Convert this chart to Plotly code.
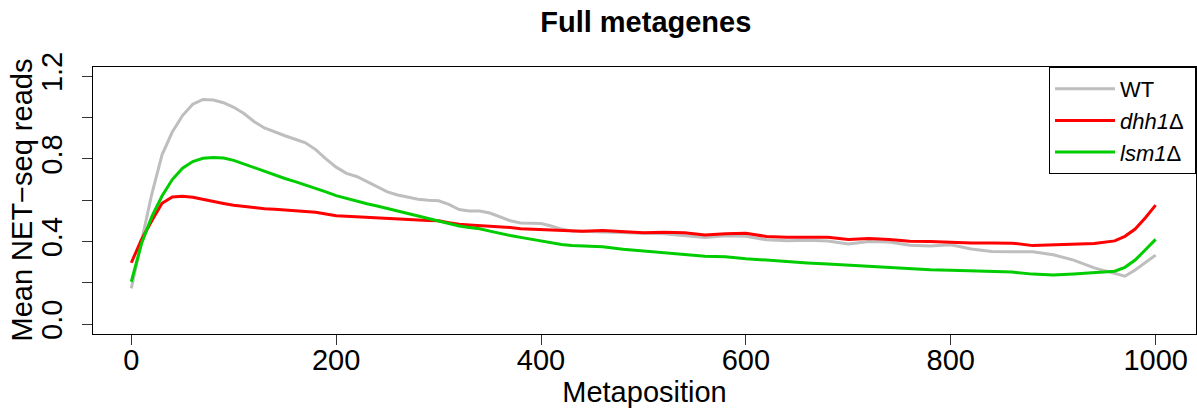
import plotly.graph_objects as go

# Metagene profiles (mean NET-seq reads along scaled gene body)
positions = [0, 10, 20, 30, 40, 50, 60, 70, 80, 90, 100, 110, 120, 130, 140, 150, 160, 170, 180, 190,
             200, 210, 220, 230, 240, 250, 260, 270, 280, 290, 300, 310, 320, 330, 340, 350, 360, 370,
             380, 390, 400, 410, 420, 430, 440, 460, 480, 500, 520, 540, 560, 580, 600, 620, 640, 660,
             680, 700, 720, 740, 760, 780, 800, 820, 840, 860, 880, 900, 920, 940, 960, 970, 980, 990, 1000]

wt = [0.173, 0.40, 0.63, 0.82, 0.93, 1.01, 1.065, 1.088, 1.085, 1.072, 1.05, 1.02, 0.98, 0.95, 0.93,
      0.912, 0.895, 0.878, 0.845, 0.80, 0.76, 0.73, 0.715, 0.69, 0.665, 0.64, 0.625, 0.614, 0.605,
      0.600, 0.597, 0.58, 0.555, 0.548, 0.548, 0.538, 0.52, 0.50, 0.49, 0.488, 0.487, 0.475, 0.46,
      0.451, 0.449, 0.447, 0.443, 0.44, 0.438, 0.43, 0.419, 0.428, 0.425, 0.408, 0.404, 0.406, 0.402,
      0.388, 0.40, 0.398, 0.382, 0.378, 0.384, 0.364, 0.352, 0.350, 0.35, 0.336, 0.31, 0.272, 0.243,
      0.232, 0.262, 0.298, 0.334]

dhh1 = [0.297, 0.41, 0.50, 0.585, 0.615, 0.619, 0.614, 0.603, 0.594, 0.584, 0.575, 0.569, 0.563,
        0.559, 0.556, 0.553, 0.55, 0.546, 0.542, 0.533, 0.525, 0.522, 0.519, 0.517, 0.515, 0.511,
        0.508, 0.506, 0.504, 0.502, 0.50, 0.491, 0.483, 0.480, 0.477, 0.475, 0.474, 0.468, 0.462,
        0.460, 0.458, 0.455, 0.452, 0.451, 0.45, 0.453, 0.446, 0.442, 0.445, 0.442, 0.431, 0.438,
        0.44, 0.424, 0.421, 0.422, 0.42, 0.41, 0.415, 0.41, 0.401, 0.40, 0.395, 0.393, 0.393, 0.392,
        0.38, 0.384, 0.388, 0.39, 0.403, 0.425, 0.46, 0.515, 0.576]

lsm1 = [0.205, 0.39, 0.52, 0.62, 0.70, 0.755, 0.787, 0.803, 0.807, 0.804, 0.793, 0.775, 0.757,
        0.738, 0.72, 0.705, 0.69, 0.674, 0.658, 0.640, 0.622, 0.608, 0.595, 0.583, 0.572, 0.560,
        0.548, 0.535, 0.522, 0.510, 0.497, 0.486, 0.475, 0.468, 0.462, 0.450, 0.438, 0.429, 0.42,
        0.411, 0.403, 0.394, 0.385, 0.381, 0.378, 0.375, 0.362, 0.353, 0.345, 0.335, 0.329, 0.326,
        0.316, 0.31, 0.302, 0.296, 0.291, 0.285, 0.278, 0.272, 0.266, 0.263, 0.261, 0.258, 0.254,
        0.252, 0.242, 0.238, 0.243, 0.248, 0.256, 0.275, 0.31, 0.36, 0.41]

series_names = ["WT", "<i>dhh1</i>\u0394\u00a0", "<i>lsm1</i>\u0394"]
series_colors = ["#bebebe", "#ff0000", "#00cd00"]

x_ticks = [0, 200, 400, 600, 800, 1000]
y_ticks = [0.0, 0.2, 0.4, 0.6, 0.8, 1.0, 1.2]
y_tick_text = ["0.0", "", "0.4", "", "0.8", "", "1.2"]

FONT = "Liberation Sans, Arial, Helvetica, sans-serif"

fig = go.Figure()
for name, color, values in zip(series_names, series_colors, [wt, dhh1, lsm1]):
    fig.add_trace(go.Scatter(x=positions, y=values, mode="lines", name=name,
                             line=dict(color=color, width=3)))

fig.update_layout(
    width=1197, height=411,
    margin=dict(l=93, r=1, t=67, b=77),
    paper_bgcolor="white", plot_bgcolor="white",
    font=dict(family=FONT, size=29, color="black"),
    title=dict(text="<b>Full metagenes</b>", x=0.5395, xanchor="center",
               y=1 - 22 / 411, yanchor="middle", font=dict(size=29)),
    showlegend=True,
    legend=dict(x=1, y=1, xanchor="right", yanchor="top", bgcolor="white",
                bordercolor="black", borderwidth=1, font=dict(size=22),
                itemwidth=60, tracegroupgap=0),
    annotations=[dict(text="Mean NET\u2212seq reads", xref="paper", yref="paper",
                      x=0, y=0.5, xanchor="center", yanchor="middle", xshift=-72,
                      textangle=-90, showarrow=False, font=dict(size=29))],
)

fig.update_xaxes(range=[-37.4, 1039.4], tickvals=x_ticks, ticks="outside", ticklen=10,
                 tickcolor="#333333", tickwidth=1, showline=True, linecolor="black",
                 linewidth=1, mirror=True, showgrid=False, zeroline=False,
                 tickfont=dict(size=29), ticklabelstandoff=-10,
                 title=dict(text="Metaposition", font=dict(size=29), standoff=1))
fig.update_yaxes(range=[-0.048, 1.245], tickvals=y_ticks, ticktext=y_tick_text, tickangle=-90,
                 ticks="outside", ticklen=10, tickcolor="#333333", tickwidth=1, showline=True,
                 linecolor="black", linewidth=1, mirror=True, showgrid=False, zeroline=False,
                 tickfont=dict(size=29), ticklabelstandoff=8)

fig.write_html("out.html")
